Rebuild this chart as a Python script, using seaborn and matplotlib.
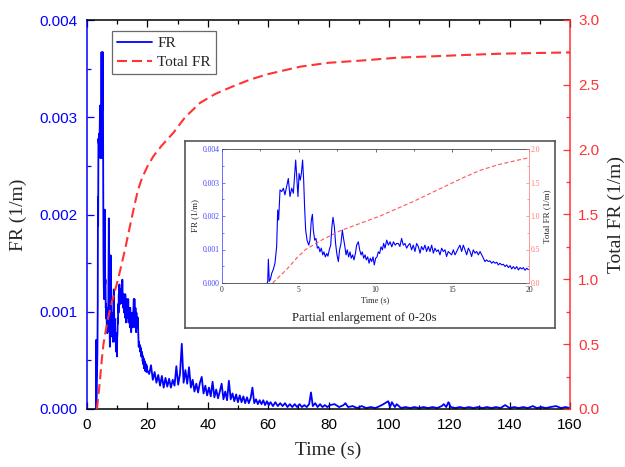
import numpy as np
import pandas as pd
import matplotlib
matplotlib.use("Agg")
import matplotlib.pyplot as plt
import seaborn as sns
from matplotlib.ticker import MultipleLocator, FormatStrFormatter

sns.set_style("white")
plt.rcParams["font.family"] = ["Liberation Sans", "DejaVu Sans"]
SERIF = ["Liberation Serif", "DejaVu Serif"]

# ---------------- data ----------------
# FR, time in s, values in 1e-3 1/m
fr_time_s = [
    2.95, 2.98, 3.02, 3.08, 3.16, 3.24, 3.34, 3.45, 3.56, 3.63, 3.69, 3.78, 3.89, 4.00, 4.10, 4.21,
    4.32, 4.43, 4.54, 4.65, 4.71, 4.80, 4.88, 4.95, 5.02, 5.10, 5.17, 5.25, 5.32, 5.38, 5.45, 5.54,
    5.65, 5.73, 5.82, 5.89, 5.95, 6.04, 6.12, 6.21, 6.30, 6.38, 6.47, 6.56, 6.64, 6.73, 6.82, 6.90,
    6.99, 7.08, 7.16, 7.23, 7.32, 7.40, 7.49, 7.58, 7.66, 7.75, 7.84, 7.90, 7.99, 8.08, 8.16, 8.25,
    8.34, 8.42, 8.51, 8.60, 8.69, 8.77, 8.88, 8.97, 9.06, 9.14, 9.23, 9.32, 9.40, 9.49, 9.58, 9.66,
    9.75, 9.84, 9.92, 10.01, 10.10, 10.18, 10.27, 10.36, 10.45, 10.53, 10.62, 10.73, 10.84, 10.95,
    11.06, 11.17, 11.28, 11.38, 11.49, 11.59, 11.70, 11.81, 11.92, 12.03, 12.14, 12.24, 12.35, 12.46,
    12.57, 12.68, 12.79, 12.90, 13.00, 13.11, 13.22, 13.33, 13.44, 13.55, 13.66, 13.77, 13.87, 13.98,
    14.09, 14.20, 14.31, 14.42, 14.53, 14.63, 14.74, 14.85, 14.96, 15.07, 15.18, 15.29, 15.39, 15.50,
    15.61, 15.72, 15.83, 15.94, 16.05, 16.16, 16.26, 16.37, 16.48, 16.59, 16.70, 16.81, 16.92, 17.03,
    17.13, 17.24, 17.35, 17.46, 17.57, 17.68, 17.79, 17.90, 18.00, 18.11, 18.22, 18.33, 18.44, 18.55,
    18.66, 18.77, 18.87, 18.98, 19.09, 19.20, 19.31, 19.42, 19.53, 19.63, 19.74, 19.85, 19.96,
    20.6, 21.2, 21.8, 22.4, 23.0, 23.6, 24.2, 24.8, 25.4, 26.0, 26.6, 27.2, 27.8, 28.4, 29.0, 29.6,
    30.2, 30.8, 31.4, 32.0, 32.6, 33.2, 33.8, 34.4, 35.0, 35.6, 36.2, 36.8, 37.4, 38.0, 38.6, 39.2,
    39.8, 40.4, 41.0, 41.6, 42.2, 42.8, 43.4, 44.0, 44.6, 45.2, 45.8, 46.4, 47.0, 47.6, 48.2, 48.8,
    49.4, 50.0, 50.6, 51.2, 51.8, 52.4, 53.0, 53.6, 54.2, 54.8, 55.4, 56.0, 56.6, 57.2, 57.8, 58.4,
    59.0, 59.6, 60.2, 60.8, 61.6, 62.4, 63.2, 64.0, 64.8, 65.6, 66.4, 67.2, 68.0, 68.8, 69.6, 70.4,
    71.2, 72.0, 72.8, 73.6, 74.2, 74.8, 75.6, 76.4, 77.2, 78.0, 78.8, 79.6, 80.5, 82.0, 83.5, 85.0,
    85.6, 86.5, 88.0, 89.5, 91.0, 92.5, 94.0, 95.5, 97.0, 98.2, 99.8, 100.4, 101.0, 102.0, 102.6,
    104.0, 105.5, 107.0, 108.5, 110.0, 111.5, 113.0, 114.5, 116.0, 117.5, 118.2, 119.0, 119.7, 120.5,
    122.0, 123.5, 125.0, 126.5, 128.0, 129.5, 131.0, 132.5, 134.0, 135.5, 137.0, 138.5, 140.0, 141.5,
    143.0, 144.5, 146.0, 147.7, 149.0, 150.5, 152.0, 153.5, 155.4, 157.0, 158.5, 160.0,
]
fr_values_e3 = [
    0.00, 0.05, 0.71, 0.05, 0.12, 0.29, 0.40, 0.59, 1.08, 2.18, 1.88, 2.78, 2.73, 2.83, 2.63, 2.88,
    3.12, 2.58, 2.83, 2.68, 3.07, 3.67, 3.07, 2.58, 3.27, 3.07, 3.27, 3.67, 3.07, 2.28, 1.58, 1.28,
    1.13, 1.28, 1.88, 2.05, 1.58, 1.28, 1.33, 1.04, 1.08, 0.93, 1.04, 0.84, 0.93, 0.78, 0.88, 0.80,
    0.99, 1.13, 1.68, 1.96, 1.68, 1.18, 0.84, 0.64, 0.99, 1.18, 1.58, 1.38, 1.13, 0.84, 0.99, 0.78,
    0.93, 0.74, 0.84, 0.69, 0.88, 1.13, 1.23, 0.99, 0.84, 0.93, 0.74, 0.84, 0.69, 0.78, 0.59, 0.74,
    0.64, 0.78, 0.54, 0.74, 0.78, 0.93, 0.88, 1.08, 0.99, 1.18, 1.04, 1.28, 1.13, 1.23,
    1.08, 1.23, 1.13, 1.18, 1.18, 1.09, 1.33, 1.13, 1.18, 1.04, 1.13, 1.18, 0.99, 1.13,
    0.94, 1.18, 1.09, 0.89, 1.09, 0.99, 1.13, 0.94, 1.09, 0.94, 1.13, 0.89, 1.04, 0.94,
    0.99, 0.84, 1.04, 0.94, 0.99, 0.79, 0.94, 0.89, 0.84, 0.99, 0.84, 0.94, 1.04, 1.13,
    0.94, 1.13, 0.99, 0.84, 1.04, 0.94, 0.79, 0.99, 0.89, 0.94, 0.84, 0.94, 0.84, 0.74,
    0.64, 0.69, 0.64, 0.66, 0.59, 0.64, 0.59, 0.62, 0.54, 0.59, 0.54, 0.56, 0.49, 0.54,
    0.46, 0.52, 0.42, 0.49, 0.42, 0.49, 0.39, 0.46, 0.42, 0.46, 0.38, 0.44, 0.40,
    0.36, 0.45, 0.30, 0.38, 0.27, 0.35, 0.24, 0.34, 0.22, 0.32, 0.23, 0.31, 0.22, 0.30, 0.24, 0.44,
    0.25, 0.36, 0.67, 0.27, 0.40, 0.26, 0.43, 0.22, 0.30, 0.18, 0.26, 0.17, 0.27, 0.33, 0.16, 0.24,
    0.14, 0.22, 0.13, 0.28, 0.12, 0.20, 0.11, 0.18, 0.26, 0.10, 0.18, 0.09, 0.29, 0.10, 0.16, 0.08,
    0.15, 0.07, 0.14, 0.07, 0.13, 0.06, 0.12, 0.06, 0.11, 0.22, 0.06, 0.10, 0.05, 0.09, 0.05, 0.09,
    0.04, 0.08, 0.04, 0.07, 0.03, 0.07, 0.03, 0.06, 0.03, 0.06, 0.02, 0.05, 0.02, 0.05, 0.02, 0.05,
    0.02, 0.04, 0.02, 0.05, 0.17, 0.03, 0.06, 0.02, 0.05, 0.02, 0.04, 0.02, 0.04, 0.05, 0.02, 0.04,
    0.06, 0.02, 0.03, 0.01, 0.03, 0.01, 0.02, 0.01, 0.03, 0.05, 0.08, 0.02, 0.07, 0.02, 0.05,
    0.01, 0.02, 0.01, 0.02, 0.01, 0.02, 0.01, 0.02, 0.01, 0.03, 0.05, 0.02, 0.07, 0.02,
    0.01, 0.02, 0.01, 0.02, 0.01, 0.02, 0.01, 0.02, 0.01, 0.02, 0.01, 0.04, 0.01, 0.02,
    0.01, 0.02, 0.01, 0.03, 0.01, 0.02, 0.01, 0.02, 0.03, 0.01, 0.02, 0.01,
]
# Total FR, 1/m
total_time_s = [3.3, 4.2, 4.9, 5.45, 6.4, 7.7, 9.0, 10.3, 11.5, 12.5, 13.5, 14.6, 15.7, 16.8, 17.9,
                19.0, 20.0, 22.0, 24.7, 28.6, 32.5, 37.4, 42.5, 48.5, 54.0, 59.5, 65.0, 70.6,
                80.0, 92.6, 103.0, 114.7, 125.0, 136.8, 148.0, 160.0]
total_values = [0.0, 0.2, 0.38, 0.5, 0.63, 0.78, 0.89, 1.0, 1.12, 1.22, 1.33, 1.45, 1.57, 1.68, 1.76,
                1.82, 1.87, 1.95, 2.03, 2.13, 2.25, 2.36, 2.43, 2.49, 2.54, 2.58, 2.61, 2.64,
                2.67, 2.69, 2.71, 2.72, 2.73, 2.74, 2.745, 2.75]

series_labels = ["FR", "Total FR"]
inset_caption = "Partial enlargement of 0-20s"

fr = pd.DataFrame({"t": fr_time_s, "FR": np.array(fr_values_e3) * 1e-3})
tot = pd.DataFrame({"t": total_time_s, "Total": total_values})
fr_in = fr[fr["t"] <= 20.0]
tot_in = tot[tot["t"] <= 20.0]

BLUE = "#0000FF"
RED = "#FF3333"
W, H = 625, 467

fig = plt.figure(figsize=(6.25, 4.67), dpi=100)

# ---------------- main axes ----------------
ax = fig.add_axes([87 / W, 1 - 409 / H, 483 / W, 389 / H])
ax2 = ax.twinx()
sns.lineplot(data=fr, x="t", y="FR", ax=ax, color=BLUE, linewidth=1.3,
             estimator=None, legend=False)
sns.lineplot(data=tot, x="t", y="Total", ax=ax2, color=RED, linewidth=1.5,
             estimator=None, legend=False)
ax2.lines[0].set_dashes((4.8, 2.4))

ax.set_xlim(0, 160)
ax.set_ylim(0, 0.004)
ax2.set_ylim(0, 3.0)
ax.xaxis.set_major_locator(MultipleLocator(20))
ax.xaxis.set_minor_locator(MultipleLocator(10))
ax.yaxis.set_major_locator(MultipleLocator(0.001))
ax.yaxis.set_minor_locator(MultipleLocator(0.0005))
ax.yaxis.set_major_formatter(FormatStrFormatter("%.3f"))
ax2.yaxis.set_major_locator(MultipleLocator(0.5))
ax2.yaxis.set_minor_locator(MultipleLocator(0.25))
ax2.yaxis.set_major_formatter(FormatStrFormatter("%.1f"))

ax.tick_params(axis="x", which="both", direction="in", top=True, bottom=True,
               colors="black", labelsize=11, pad=6.5, width=0.9)
ax.tick_params(axis="y", which="both", direction="in", left=True, right=False,
               colors=BLUE, labelsize=11, pad=6.5, width=0.9)
ax2.tick_params(axis="y", which="both", direction="in", colors=RED,
                labelsize=11, pad=6, width=0.9)
for a in (ax, ax2):
    a.tick_params(which="major", length=5)
    a.tick_params(which="minor", length=3)

for s in ("top", "bottom"):
    ax.spines[s].set_color("black")
    ax.spines[s].set_linewidth(1.1)
ax.spines["left"].set_color(BLUE)
ax.spines["left"].set_linewidth(1.1)
ax.spines["right"].set_visible(False)
for s in ("top", "bottom", "left"):
    ax2.spines[s].set_visible(False)
ax2.spines["right"].set_color(RED)
ax2.spines["right"].set_linewidth(1.1)

ax.set_xlabel("Time (s)", fontsize=14, family=SERIF)
ax.set_ylabel("FR (1/m)", fontsize=14, family=SERIF)
ax2.set_ylabel("Total FR (1/m)", fontsize=14, family=SERIF)
ax.xaxis.set_label_coords(0.5, -0.085)
ax.yaxis.set_label_coords(-0.124, 0.5)
ax2.yaxis.set_label_coords(1.079, 0.5)

leg = ax2.legend([ax.lines[0], ax2.lines[0]], series_labels, loc="upper left",
                 bbox_to_anchor=((112 - 87) / 483, (409 - 31) / 389),
                 frameon=True, fancybox=False, edgecolor="#444444",
                 prop={"family": SERIF, "size": 11}, borderpad=0.35,
                 handlelength=2.3, labelspacing=0.35, handletextpad=0.3,
                 borderaxespad=0)
leg.get_frame().set_linewidth(0.9)

# ---------------- inset frame ----------------
fa = fig.add_axes([185 / W, 1 - 328 / H, 370 / W, 187 / H])
fa.set_xticks([])
fa.set_yticks([])
fa.set_facecolor("white")
for s in fa.spines.values():
    s.set_color("#555555")
    s.set_linewidth(1.2)
fig.text(364 / W, 1 - 318 / H, inset_caption, ha="center", va="center",
         fontsize=9.2, family=SERIF)

# ---------------- inset axes ----------------
ia = fig.add_axes([222 / W, 1 - 283 / H, 307 / W, 134 / H])
ia2 = ia.twinx()
sns.lineplot(data=fr_in, x="t", y="FR", ax=ia, color=BLUE, linewidth=0.8,
             estimator=None, legend=False)
sns.lineplot(data=tot_in, x="t", y="Total", ax=ia2, color="#FF5555", linewidth=0.8,
             estimator=None, legend=False)
ia2.lines[0].set_dashes((3.6, 2.2))
ia.set_xlim(0, 20)
ia.set_ylim(0, 0.004)
ia2.set_ylim(0, 2.0)
ia.xaxis.set_major_locator(MultipleLocator(5))
ia.xaxis.set_minor_locator(MultipleLocator(2.5))
ia.yaxis.set_major_locator(MultipleLocator(0.001))
ia.yaxis.set_minor_locator(MultipleLocator(0.0005))
ia.yaxis.set_major_formatter(FormatStrFormatter("%.3f"))
ia2.yaxis.set_major_locator(MultipleLocator(0.5))
ia2.yaxis.set_minor_locator(MultipleLocator(0.25))
ia2.yaxis.set_major_formatter(FormatStrFormatter("%.1f"))

ia.tick_params(axis="x", which="both", direction="in", top=True, colors="#333333",
               labelsize=5.5, pad=2.5, width=0.5)
ia.tick_params(axis="y", which="both", direction="in", right=False, colors="#4444FF",
               labelsize=5.5, pad=1.5, width=0.5)
ia2.tick_params(axis="y", which="both", direction="in", colors="#FF7777",
                labelsize=5.5, pad=1.2, width=0.5)
for a in (ia, ia2):
    a.tick_params(which="major", length=2.2)
    a.tick_params(which="minor", length=1.3)
for t in ia.get_xticklabels() + ia.get_yticklabels() + ia2.get_yticklabels():
    t.set_family(SERIF)
for s in ("top", "bottom"):
    ia.spines[s].set_color("#444444")
    ia.spines[s].set_linewidth(0.6)
ia.spines["left"].set_color("#5555FF")
ia.spines["left"].set_linewidth(0.6)
ia.spines["right"].set_visible(False)
for s in ("top", "bottom", "left"):
    ia2.spines[s].set_visible(False)
ia2.spines["right"].set_color("#FF8888")
ia2.spines["right"].set_linewidth(0.6)

ia.set_xlabel("Time (s)", fontsize=6, family=SERIF)
ia.set_ylabel("FR (1/m)", fontsize=6.5, family=SERIF)
ia2.set_ylabel("Total FR (1/m)", fontsize=6.5, family=SERIF)
ia.xaxis.set_label_coords(0.5, -0.095)
ia.yaxis.set_label_coords(-0.075, 0.5)
ia2.yaxis.set_label_coords(1.045, 0.5)

fig.savefig("out.png", dpi=100)
